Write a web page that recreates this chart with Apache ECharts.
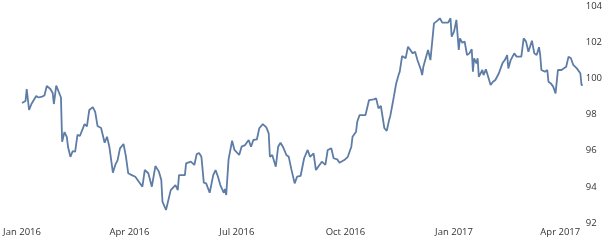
<!DOCTYPE html>
<html>
<head>
<meta charset="utf-8">
<script src="https://cdn.jsdelivr.net/npm/echarts@6/dist/echarts.min.js"></script>
<style>
html,body{margin:0;padding:0;background:#fff;}
#c{width:605px;height:241px;}
</style>
</head>
<body>
<div id="c"></div>
<script>
const dates = [
'2016-01-01','2016-01-04','2016-01-05','2016-01-07','2016-01-09','2016-01-11','2016-01-13','2016-01-15','2016-01-18','2016-01-20',
'2016-01-22','2016-01-25','2016-01-27','2016-01-28','2016-01-30','2016-02-01','2016-02-03','2016-02-04','2016-02-06','2016-02-08',
'2016-02-09','2016-02-11','2016-02-13','2016-02-15','2016-02-17','2016-02-19','2016-02-21','2016-02-23','2016-02-25','2016-02-27',
'2016-03-01','2016-03-03','2016-03-05','2016-03-08','2016-03-11','2016-03-13','2016-03-15','2016-03-18','2016-03-20','2016-03-22',
'2016-03-24','2016-03-27','2016-03-29','2016-03-31','2016-04-03','2016-04-06','2016-04-09','2016-04-12','2016-04-14','2016-04-17',
'2016-04-20','2016-04-23','2016-04-26','2016-04-28','2016-04-29','2016-05-02','2016-05-06','2016-05-10','2016-05-12','2016-05-13',
'2016-05-18','2016-05-19','2016-05-23','2016-05-26','2016-05-28','2016-05-30','2016-06-01','2016-06-03','2016-06-05','2016-06-08',
'2016-06-11','2016-06-13','2016-06-15','2016-06-17','2016-06-20','2016-06-21','2016-06-22','2016-06-24','2016-06-27','2016-06-29',
'2016-06-30','2016-07-03','2016-07-05','2016-07-08','2016-07-11','2016-07-13','2016-07-15','2016-07-18','2016-07-20','2016-07-23',
'2016-07-26','2016-07-28','2016-07-29','2016-07-31','2016-08-03','2016-08-05','2016-08-07','2016-08-09','2016-08-12','2016-08-14',
'2016-08-16','2016-08-19','2016-08-21','2016-08-24','2016-08-27','2016-08-30','2016-09-01','2016-09-04','2016-09-06','2016-09-09',
'2016-09-11','2016-09-14','2016-09-16','2016-09-19','2016-09-21','2016-09-24','2016-09-26','2016-09-30','2016-10-03','2016-10-06',
'2016-10-07','2016-10-10','2016-10-11','2016-10-13','2016-10-18','2016-10-21','2016-10-25','2016-10-27','2016-10-29','2016-10-31',
'2016-11-03','2016-11-05','2016-11-07','2016-11-08','2016-11-10','2016-11-11','2016-11-13','2016-11-15','2016-11-16','2016-11-18',
'2016-11-21','2016-11-23','2016-11-25','2016-11-27','2016-11-29','2016-12-01','2016-12-04','2016-12-05','2016-12-06','2016-12-08',
'2016-12-10','2016-12-12','2016-12-13','2016-12-15','2016-12-18','2016-12-20','2016-12-22','2016-12-27','2016-12-29','2016-12-30',
'2017-01-01','2017-01-03','2017-01-05','2017-01-06','2017-01-08','2017-01-10','2017-01-12','2017-01-14','2017-01-16','2017-01-17',
'2017-01-18','2017-01-20','2017-01-21','2017-01-22','2017-01-25','2017-01-26','2017-01-28','2017-01-29','2017-02-01','2017-02-03',
'2017-02-05','2017-02-06','2017-02-08','2017-02-11','2017-02-13','2017-02-15','2017-02-16','2017-02-18','2017-02-19','2017-02-21',
'2017-02-23','2017-02-27','2017-03-01','2017-03-03','2017-03-05','2017-03-08','2017-03-10','2017-03-12','2017-03-14','2017-03-15',
'2017-03-16','2017-03-19','2017-03-21','2017-03-22','2017-03-24','2017-03-26','2017-03-28','2017-03-30','2017-04-02','2017-04-06',
'2017-04-08','2017-04-10','2017-04-12','2017-04-15','2017-04-18','2017-04-19','2017-04-20'
];
const values = [
98.64, 98.75, 99.41, 98.25, 98.58, 98.8, 99.02, 98.94, 98.99, 99.05,
99.58, 99.41, 99.19, 98.58, 99.6, 99.27, 98.94, 96.49, 97.03, 96.75,
96.2, 95.66, 95.98, 95.94, 96.87, 96.81, 97.14, 97.47, 97.34, 98.25,
98.41, 98.15, 97.36, 97.25, 96.44, 96.77, 96.22, 94.78, 95.21, 95.48,
96.13, 96.37, 95.7, 94.75, 94.65, 94.56, 94.28, 94.01, 94.93, 94.75,
94.01, 95.15, 94.84, 94.38, 93.18, 92.72, 93.82, 94.1, 93.82, 94.65,
94.65, 95.3, 95.39, 95.21, 95.81, 95.87, 95.66, 94.23, 94.19, 93.67,
94.65, 94.93, 94.56, 94.1, 93.67, 93.88, 93.55, 95.52, 96.55, 96.04,
96.13, 95.76, 96.22, 96.31, 96.59, 96.22, 96.59, 96.63, 97.24, 97.47,
97.29, 96.96, 95.66, 95.76, 95.11, 96.22, 96.44, 96.22, 95.76, 95.66,
95.02, 94.19, 94.56, 94.6, 95.58, 96.04, 95.66, 95.85, 94.93, 95.21,
95.39, 95.21, 96.04, 96.13, 95.58, 95.52, 95.33, 95.48, 95.66, 96.22,
96.77, 97.05, 97.6, 97.97, 97.97, 98.8, 98.84, 98.89, 98.34, 98.47,
97.24, 97.1, 97.69, 97.92, 98.62, 98.98, 99.72, 100.18, 100.37, 101.23,
101.11, 101.75, 101.57, 101.38, 101.47, 101.01, 100.46, 100.18, 100.64, 101.11,
101.57, 101.01, 101.11, 103.04, 103.19, 103.32, 103.08, 103.08, 103.32, 102.3,
102.58, 103.23, 101.57, 102.21, 101.97, 102.03, 101.29, 101.38, 101.61, 100.37,
101.11, 100.83, 101.11, 100.09, 100.46, 100.18, 100.5, 100.5, 99.63, 99.81,
99.91, 99.81, 100.28, 100.83, 101.01, 101.29, 100.55, 101.01, 100.92, 101.38,
101.2, 101.2, 102.21, 102.03, 101.47, 102.08, 101.38, 101.29, 101.72, 101.29,
100.46, 100.37, 100.46, 99.81, 99.72, 99.54, 99.17, 100.46, 100.46, 100.64,
101.2, 101.11, 100.74, 100.55, 100.28, 99.63, 99.63
];
const xTickDates = ['2016-01-01','2016-04-01','2016-07-01','2016-10-01','2017-01-01','2017-04-01'];
const monthNames = ['Jan','Feb','Mar','Apr','May','Jun','Jul','Aug','Sep','Oct','Nov','Dec'];
const yTicks = [92, 94, 96, 98, 100, 102, 104];

function toTime(s){ const p = s.split('-').map(Number); return new Date(p[0], p[1]-1, p[2]).getTime(); }

const n = Math.min(dates.length, values.length);
const seriesData = [];
for (let i = 0; i < n; i++) seriesData.push([toTime(dates[i]), values[i]]);

const chart = echarts.init(document.getElementById('c'), null, {renderer:'canvas'});
chart.setOption({
  animation: false,
  backgroundColor: '#ffffff',
  grid: { left: 22, right: 21, top: 6, bottom: 18, containLabel: false },
  xAxis: {
    type: 'value',
    min: toTime('2016-01-01'),
    max: toTime('2017-04-20'),
    axisLine: { show: false },
    axisTick: { show: false },
    splitLine: { show: false },
    axisLabel: {
      customValues: xTickDates.map(toTime),
      hideOverlap: false,
      margin: 4,
      color: '#333333',
      fontFamily: 'Open Sans',
      fontSize: 9.5,
      formatter: function(v){ const d = new Date(v); return monthNames[d.getMonth()] + ' ' + d.getFullYear(); }
    }
  },
  yAxis: {
    type: 'value',
    position: 'right',
    min: yTicks[0],
    max: yTicks[yTicks.length-1],
    interval: 2,
    axisLine: { show: false },
    axisTick: { show: false },
    splitLine: { show: false },
    axisLabel: {
      margin: 3,
      color: '#333333',
      fontFamily: 'Open Sans',
      fontSize: 9.5
    }
  },
  series: [{
    type: 'line',
    data: seriesData,
    showSymbol: false,
    symbol: 'none',
    lineStyle: { color: '#5d7ca6', width: 1.8 },
    itemStyle: { color: '#5d7ca6' }
  }]
});
</script>
</body>
</html>
